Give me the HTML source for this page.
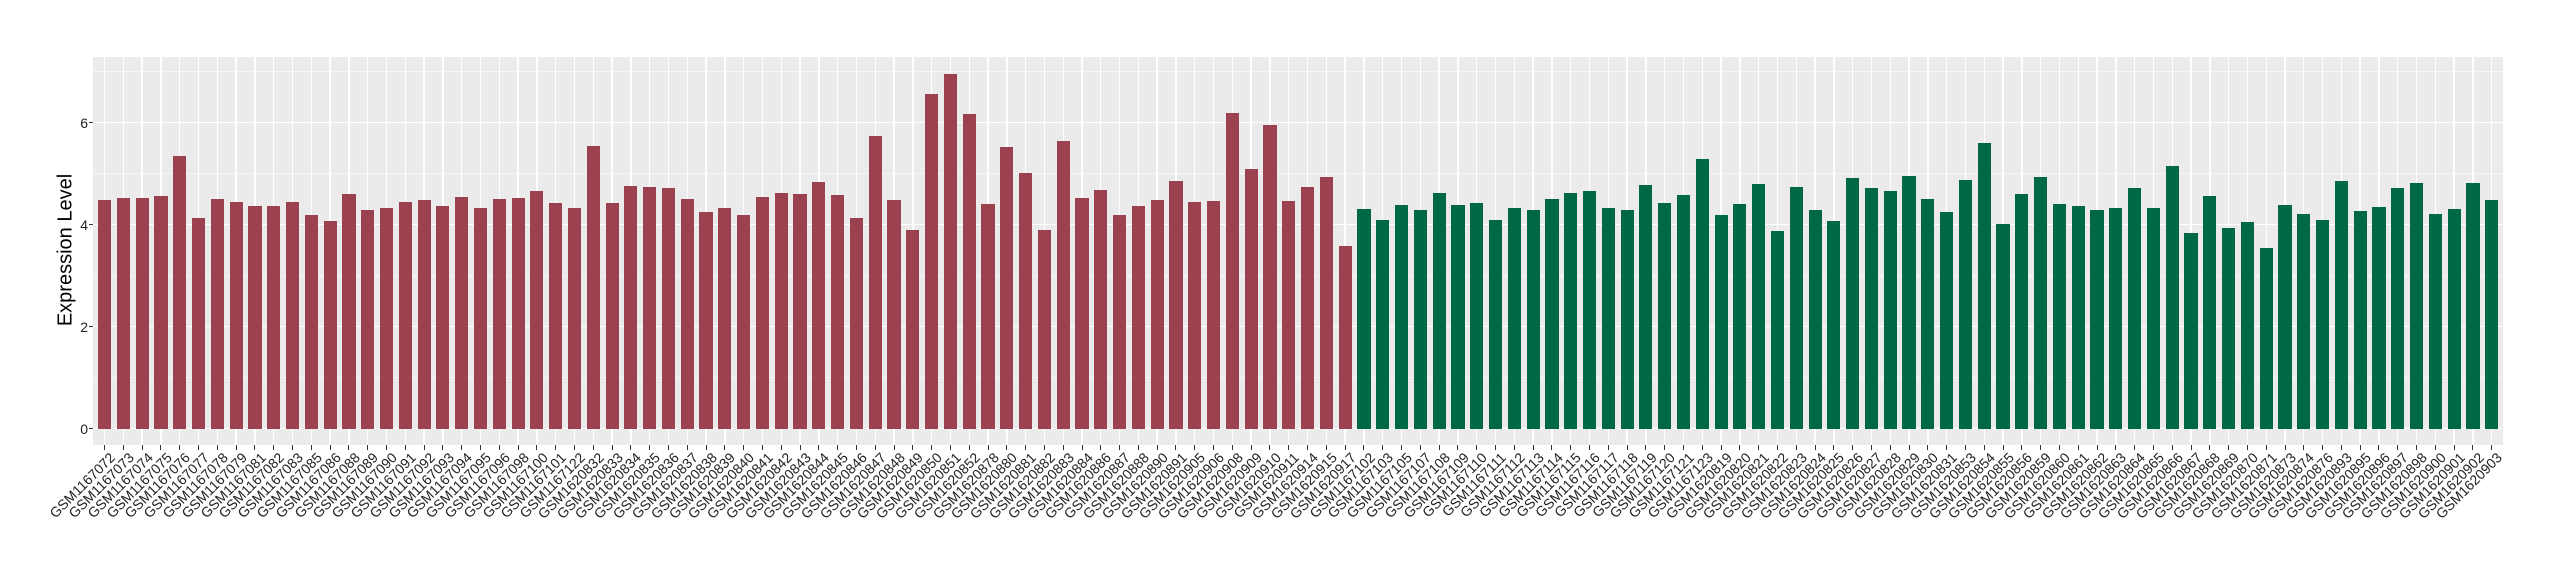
<!DOCTYPE html>
<html><head><meta charset="utf-8"><style>
body{margin:0;background:#fff;width:2560px;height:580px;position:relative;overflow:hidden;font-family:"Liberation Sans",Arial,sans-serif}
#panel{position:absolute;left:93.3px;top:56.7px;width:2409.7px;height:388.3px;background:#EBEBEB;overflow:hidden}
.h{position:absolute;left:0;width:100%;background:#fff}
.mj{height:1.4px;margin-top:-0.7px}
.mn{height:0.7px;margin-top:-0.35px;background:#F7F7F7}
#row{position:absolute;left:1.88px;top:0;height:100%;display:flex}
.c{width:18.8px;height:100%;position:relative;flex:none}
.c::before{content:"";position:absolute;left:8.7px;width:1.4px;top:0;bottom:0;background:#fff}
.c i{position:absolute;left:2.82px;width:13.16px;bottom:16.3px;height:calc(var(--v)*51px);background:#9B4150}
.g i{background:#006845}
#labs{position:absolute;left:95.18px;top:445px;display:flex}
#labs div{width:18.8px;height:10px;position:relative;flex:none}
#labs div::before{content:"";position:absolute;left:8.9px;top:0;width:1px;height:4.5px;background:#333}
#labs span{position:absolute;right:6.4px;top:5px;white-space:nowrap;font-size:14px;color:#222;transform-origin:100% 0;transform:rotate(-45deg);line-height:1}
.yt{position:absolute;right:2472px;font-size:14px;color:#222;line-height:1}
.tk{position:absolute;left:89px;width:4.3px;height:1px;background:#333}
#yt{position:absolute;left:66px;top:250px;transform:translate(-50%,-50%) rotate(-90deg);font-size:20px;white-space:nowrap;color:#000}
</style></head><body>
<div id="panel">
<div class="h mn" style="top:15px"></div>
<div class="h mn" style="top:117px"></div>
<div class="h mn" style="top:219px"></div>
<div class="h mn" style="top:321px"></div>
<div class="h mj" style="top:66px"></div>
<div class="h mj" style="top:168px"></div>
<div class="h mj" style="top:270px"></div>
<div class="h mj" style="top:372px"></div>
<div id="row">
<div class="c"><i style="--v:4.48"></i></div><div class="c"><i style="--v:4.53"></i></div><div class="c"><i style="--v:4.53"></i></div><div class="c"><i style="--v:4.56"></i></div><div class="c"><i style="--v:5.34"></i></div><div class="c"><i style="--v:4.14"></i></div><div class="c"><i style="--v:4.50"></i></div><div class="c"><i style="--v:4.44"></i></div><div class="c"><i style="--v:4.36"></i></div><div class="c"><i style="--v:4.36"></i></div><div class="c"><i style="--v:4.44"></i></div><div class="c"><i style="--v:4.19"></i></div><div class="c"><i style="--v:4.08"></i></div><div class="c"><i style="--v:4.60"></i></div><div class="c"><i style="--v:4.28"></i></div><div class="c"><i style="--v:4.33"></i></div>
<div class="c"><i style="--v:4.44"></i></div><div class="c"><i style="--v:4.48"></i></div><div class="c"><i style="--v:4.37"></i></div><div class="c"><i style="--v:4.54"></i></div><div class="c"><i style="--v:4.33"></i></div><div class="c"><i style="--v:4.50"></i></div><div class="c"><i style="--v:4.52"></i></div><div class="c"><i style="--v:4.66"></i></div><div class="c"><i style="--v:4.42"></i></div><div class="c"><i style="--v:4.33"></i></div><div class="c"><i style="--v:5.54"></i></div><div class="c"><i style="--v:4.42"></i></div><div class="c"><i style="--v:4.76"></i></div><div class="c"><i style="--v:4.74"></i></div><div class="c"><i style="--v:4.72"></i></div><div class="c"><i style="--v:4.50"></i></div><div class="c"><i style="--v:4.25"></i></div><div class="c"><i style="--v:4.33"></i></div><div class="c"><i style="--v:4.19"></i></div>
<div class="c"><i style="--v:4.54"></i></div><div class="c"><i style="--v:4.62"></i></div><div class="c"><i style="--v:4.60"></i></div><div class="c"><i style="--v:4.84"></i></div><div class="c"><i style="--v:4.58"></i></div><div class="c"><i style="--v:4.13"></i></div><div class="c"><i style="--v:5.74"></i></div><div class="c"><i style="--v:4.48"></i></div><div class="c"><i style="--v:3.90"></i></div><div class="c"><i style="--v:6.56"></i></div><div class="c"><i style="--v:6.95"></i></div><div class="c"><i style="--v:6.17"></i></div><div class="c"><i style="--v:4.41"></i></div><div class="c"><i style="--v:5.52"></i></div><div class="c"><i style="--v:5.01"></i></div><div class="c"><i style="--v:3.90"></i></div><div class="c"><i style="--v:5.64"></i></div><div class="c"><i style="--v:4.52"></i></div><div class="c"><i style="--v:4.68"></i></div><div class="c"><i style="--v:4.19"></i></div>
<div class="c"><i style="--v:4.37"></i></div><div class="c"><i style="--v:4.48"></i></div><div class="c"><i style="--v:4.86"></i></div><div class="c"><i style="--v:4.44"></i></div><div class="c"><i style="--v:4.46"></i></div><div class="c"><i style="--v:6.19"></i></div><div class="c"><i style="--v:5.09"></i></div><div class="c"><i style="--v:5.95"></i></div><div class="c"><i style="--v:4.46"></i></div><div class="c"><i style="--v:4.74"></i></div><div class="c"><i style="--v:4.93"></i></div><div class="c"><i style="--v:3.58"></i></div>
<div class="c g"><i style="--v:4.31"></i></div><div class="c g"><i style="--v:4.09"></i></div><div class="c g"><i style="--v:4.39"></i></div><div class="c g"><i style="--v:4.29"></i></div><div class="c g"><i style="--v:4.62"></i></div><div class="c g"><i style="--v:4.39"></i></div><div class="c g"><i style="--v:4.42"></i></div><div class="c g"><i style="--v:4.09"></i></div>
<div class="c g"><i style="--v:4.33"></i></div><div class="c g"><i style="--v:4.29"></i></div><div class="c g"><i style="--v:4.50"></i></div><div class="c g"><i style="--v:4.62"></i></div><div class="c g"><i style="--v:4.66"></i></div><div class="c g"><i style="--v:4.33"></i></div><div class="c g"><i style="--v:4.29"></i></div><div class="c g"><i style="--v:4.78"></i></div><div class="c g"><i style="--v:4.42"></i></div><div class="c g"><i style="--v:4.58"></i></div><div class="c g"><i style="--v:5.29"></i></div><div class="c g"><i style="--v:4.19"></i></div><div class="c g"><i style="--v:4.41"></i></div><div class="c g"><i style="--v:4.80"></i></div><div class="c g"><i style="--v:3.88"></i></div><div class="c g"><i style="--v:4.74"></i></div><div class="c g"><i style="--v:4.29"></i></div><div class="c g"><i style="--v:4.07"></i></div><div class="c g"><i style="--v:4.92"></i></div><div class="c g"><i style="--v:4.72"></i></div>
<div class="c g"><i style="--v:4.66"></i></div><div class="c g"><i style="--v:4.95"></i></div><div class="c g"><i style="--v:4.50"></i></div><div class="c g"><i style="--v:4.25"></i></div><div class="c g"><i style="--v:4.88"></i></div><div class="c g"><i style="--v:5.60"></i></div><div class="c g"><i style="--v:4.01"></i></div><div class="c g"><i style="--v:4.60"></i></div><div class="c g"><i style="--v:4.93"></i></div><div class="c g"><i style="--v:4.41"></i></div><div class="c g"><i style="--v:4.37"></i></div><div class="c g"><i style="--v:4.29"></i></div><div class="c g"><i style="--v:4.33"></i></div><div class="c g"><i style="--v:4.72"></i></div><div class="c g"><i style="--v:4.33"></i></div><div class="c g"><i style="--v:5.15"></i></div><div class="c g"><i style="--v:3.84"></i></div><div class="c g"><i style="--v:4.56"></i></div><div class="c g"><i style="--v:3.93"></i></div>
<div class="c g"><i style="--v:4.05"></i></div><div class="c g"><i style="--v:3.54"></i></div><div class="c g"><i style="--v:4.39"></i></div><div class="c g"><i style="--v:4.21"></i></div><div class="c g"><i style="--v:4.09"></i></div><div class="c g"><i style="--v:4.86"></i></div><div class="c g"><i style="--v:4.27"></i></div><div class="c g"><i style="--v:4.35"></i></div><div class="c g"><i style="--v:4.72"></i></div><div class="c g"><i style="--v:4.82"></i></div><div class="c g"><i style="--v:4.21"></i></div><div class="c g"><i style="--v:4.31"></i></div><div class="c g"><i style="--v:4.82"></i></div><div class="c g"><i style="--v:4.48"></i></div>
</div></div>
<div class="yt" style="top:422px">0</div><div class="yt" style="top:320px">2</div><div class="yt" style="top:218px">4</div><div class="yt" style="top:116px">6</div>
<div class="tk" style="top:428.2px"></div><div class="tk" style="top:326.2px"></div><div class="tk" style="top:224.2px"></div><div class="tk" style="top:122.2px"></div>
<div id="yt">Expression Level</div>
<div id="labs">
<div><span>GSM1167072</span></div><div><span>GSM1167073</span></div><div><span>GSM1167074</span></div><div><span>GSM1167075</span></div><div><span>GSM1167076</span></div><div><span>GSM1167077</span></div><div><span>GSM1167078</span></div><div><span>GSM1167079</span></div><div><span>GSM1167081</span></div><div><span>GSM1167082</span></div><div><span>GSM1167083</span></div><div><span>GSM1167085</span></div><div><span>GSM1167086</span></div><div><span>GSM1167088</span></div><div><span>GSM1167089</span></div><div><span>GSM1167090</span></div><div><span>GSM1167091</span></div><div><span>GSM1167092</span></div><div><span>GSM1167093</span></div><div><span>GSM1167094</span></div><div><span>GSM1167095</span></div><div><span>GSM1167096</span></div><div><span>GSM1167098</span></div><div><span>GSM1167100</span></div><div><span>GSM1167101</span></div><div><span>GSM1167122</span></div>
<div><span>GSM1620832</span></div><div><span>GSM1620833</span></div><div><span>GSM1620834</span></div><div><span>GSM1620835</span></div><div><span>GSM1620836</span></div><div><span>GSM1620837</span></div><div><span>GSM1620838</span></div><div><span>GSM1620839</span></div><div><span>GSM1620840</span></div>
<div><span>GSM1620841</span></div><div><span>GSM1620842</span></div><div><span>GSM1620843</span></div><div><span>GSM1620844</span></div><div><span>GSM1620845</span></div><div><span>GSM1620846</span></div><div><span>GSM1620847</span></div><div><span>GSM1620848</span></div><div><span>GSM1620849</span></div><div><span>GSM1620850</span></div><div><span>GSM1620851</span></div><div><span>GSM1620852</span></div><div><span>GSM1620878</span></div><div><span>GSM1620880</span></div><div><span>GSM1620881</span></div><div><span>GSM1620882</span></div><div><span>GSM1620883</span></div><div><span>GSM1620884</span></div><div><span>GSM1620886</span></div><div><span>GSM1620887</span></div>
<div><span>GSM1620888</span></div><div><span>GSM1620890</span></div><div><span>GSM1620891</span></div><div><span>GSM1620905</span></div><div><span>GSM1620906</span></div><div><span>GSM1620908</span></div><div><span>GSM1620909</span></div><div><span>GSM1620910</span></div><div><span>GSM1620911</span></div><div><span>GSM1620914</span></div><div><span>GSM1620915</span></div><div><span>GSM1620917</span></div>
<div><span>GSM1167102</span></div><div><span>GSM1167103</span></div><div><span>GSM1167105</span></div><div><span>GSM1167107</span></div><div><span>GSM1167108</span></div><div><span>GSM1167109</span></div><div><span>GSM1167110</span></div><div><span>GSM1167111</span></div><div><span>GSM1167112</span></div><div><span>GSM1167113</span></div><div><span>GSM1167114</span></div><div><span>GSM1167115</span></div><div><span>GSM1167116</span></div><div><span>GSM1167117</span></div><div><span>GSM1167118</span></div><div><span>GSM1167119</span></div><div><span>GSM1167120</span></div><div><span>GSM1167121</span></div><div><span>GSM1167123</span></div>
<div><span>GSM1620819</span></div><div><span>GSM1620820</span></div><div><span>GSM1620821</span></div><div><span>GSM1620822</span></div><div><span>GSM1620823</span></div><div><span>GSM1620824</span></div><div><span>GSM1620825</span></div><div><span>GSM1620826</span></div><div><span>GSM1620827</span></div>
<div><span>GSM1620828</span></div><div><span>GSM1620829</span></div><div><span>GSM1620830</span></div><div><span>GSM1620831</span></div><div><span>GSM1620853</span></div><div><span>GSM1620854</span></div><div><span>GSM1620855</span></div><div><span>GSM1620856</span></div><div><span>GSM1620859</span></div><div><span>GSM1620860</span></div><div><span>GSM1620861</span></div><div><span>GSM1620862</span></div><div><span>GSM1620863</span></div><div><span>GSM1620864</span></div><div><span>GSM1620865</span></div><div><span>GSM1620866</span></div><div><span>GSM1620867</span></div><div><span>GSM1620868</span></div><div><span>GSM1620869</span></div>
<div><span>GSM1620870</span></div><div><span>GSM1620871</span></div><div><span>GSM1620873</span></div><div><span>GSM1620874</span></div><div><span>GSM1620876</span></div><div><span>GSM1620893</span></div><div><span>GSM1620895</span></div><div><span>GSM1620896</span></div><div><span>GSM1620897</span></div><div><span>GSM1620898</span></div><div><span>GSM1620900</span></div><div><span>GSM1620901</span></div><div><span>GSM1620902</span></div><div><span>GSM1620903</span></div>
</div>
</body></html>
